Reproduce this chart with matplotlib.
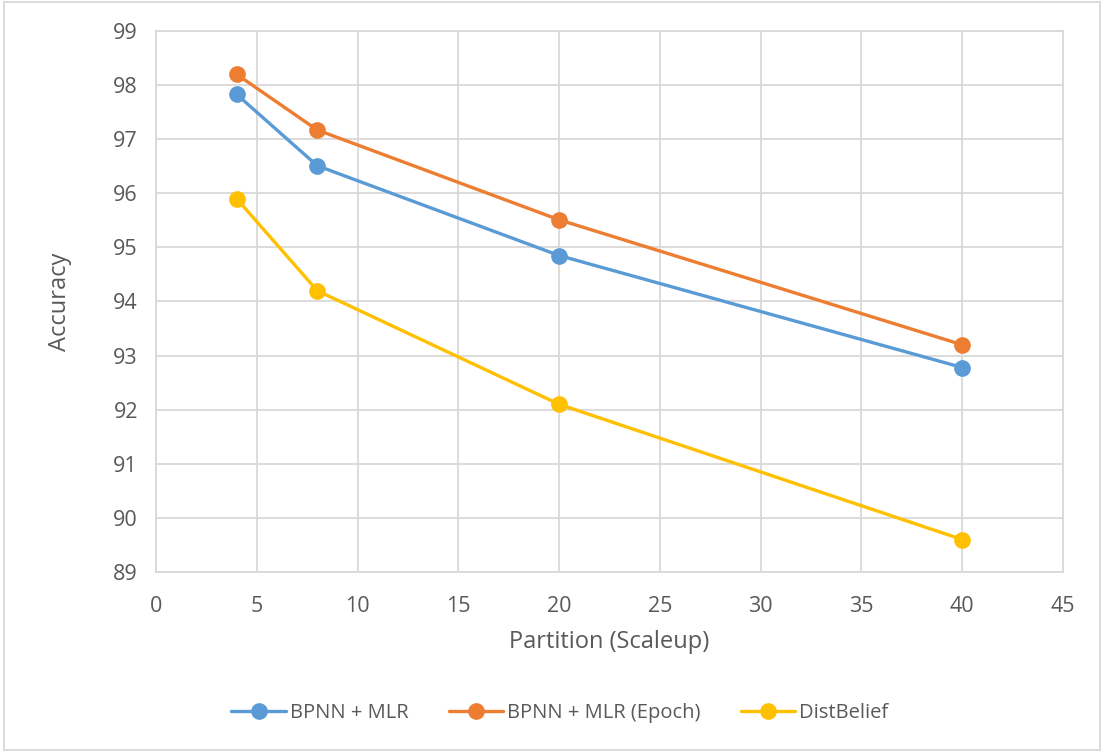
import matplotlib.pyplot as plt
import numpy as np

plt.rcParams['font.family'] = ['Open Sans', 'DejaVu Sans']

partitions = [4, 8, 20, 40]
bpnn_mlr = [97.83, 96.51, 94.85, 92.78]
bpnn_mlr_epoch = [98.2, 97.17, 95.51, 93.2]
distbelief = [95.9, 94.2, 92.1, 89.6]

series = [
    ("BPNN + MLR", bpnn_mlr, "#5B9BD5"),
    ("BPNN + MLR (Epoch)", bpnn_mlr_epoch, "#ED7D31"),
    ("DistBelief", distbelief, "#FFC000"),
]

text_color = "#595959"
grid_color = "#D9D9D9"

fig = plt.figure(figsize=(11.02, 7.51), dpi=100)
ax = fig.add_axes([156 / 1102, 1 - 572 / 751, (1063 - 156) / 1102, (572 - 31) / 751])

for name, vals, col in series:
    ax.plot(partitions, vals, color=col, lw=2.4, marker='o', ms=11,
            label=name, solid_capstyle='round', zorder=3)

ax.set_xlim(0, 45)
ax.set_ylim(89, 99)
ax.set_xticks(np.arange(0, 46, 5))
ax.set_yticks(np.arange(89, 100, 1))
ax.grid(True, color=grid_color, lw=1.3)
ax.set_axisbelow(True)
for s in ax.spines.values():
    s.set_color(grid_color)
    s.set_linewidth(1.3)
ax.tick_params(length=0, labelsize=15.5, colors=text_color, pad=13)
ax.tick_params(axis='x', pad=17)

ax.set_xlabel("Partition (Scaleup)", fontsize=17, color=text_color, labelpad=10)
ax.set_ylabel("Accuracy", fontsize=17, color=text_color, labelpad=30)

fig.legend(loc='center', bbox_to_anchor=(560 / 1102, 1 - 713 / 751), ncol=3,
           frameon=False, fontsize=14.5, labelcolor=text_color,
           handlelength=2.7, columnspacing=2.0, handletextpad=0.2)

# outer chart border
fig.patches.append(plt.Rectangle((4 / 1102, 1 / 751), 1096 / 1102, 748 / 751,
                                 transform=fig.transFigure, fill=False,
                                 edgecolor=grid_color, lw=1.3))

fig.savefig("out.png", dpi=100, facecolor='white')
